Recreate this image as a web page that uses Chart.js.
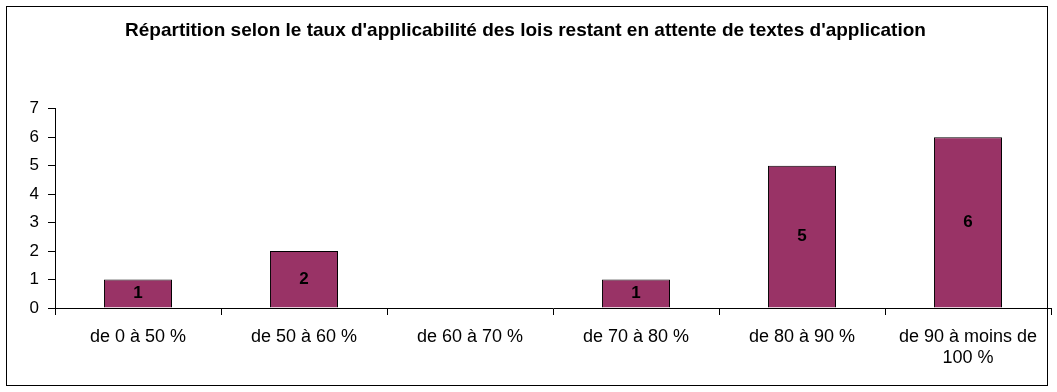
<!DOCTYPE html>
<html>
<head>
<meta charset="utf-8">
<script src="https://cdn.jsdelivr.net/npm/chart.js@4/dist/chart.umd.min.js"></script>
<style>
  html, body { margin: 0; padding: 0; background: #fff; }
  #wrap { position: relative; width: 1057px; height: 392px; }
  #frame { position: absolute; left: 6px; top: 6px; width: 1042px; height: 380px; border: 1px solid #000; box-sizing: border-box; pointer-events: none; }
</style>
</head>
<body>
<div id="wrap">
  <canvas id="chart" width="1057" height="392"></canvas>
  <div id="frame"></div>
</div>
<script>
const categories = [
  'de 0 à 50 %',
  'de 50 à 60 %',
  'de 60 à 70 %',
  'de 70 à 80 %',
  'de 80 à 90 %',
  ['de 90 à moins de', '100 %']
];
const counts = [1, 2, 0, 1, 5, 6];
const yTicks = [0, 1, 2, 3, 4, 5, 6, 7];

const barLabels = {
  id: 'barLabels',
  afterDatasetsDraw(chart) {
    const ctx = chart.ctx;
    const meta = chart.getDatasetMeta(0);
    ctx.save();
    ctx.font = 'bold 17px Arial, "Liberation Sans", sans-serif';
    ctx.fillStyle = '#000';
    ctx.textAlign = 'center';
    ctx.textBaseline = 'middle';
    meta.data.forEach((bar, i) => {
      const v = counts[i];
      if (!v) return;
      ctx.fillText(String(v), bar.x, (bar.y + bar.base) / 2);
    });
    ctx.restore();
  }
};

new Chart(document.getElementById('chart').getContext('2d'), {
  type: 'bar',
  data: {
    labels: categories,
    datasets: [{
      data: counts,
      backgroundColor: '#993366',
      borderColor: '#000',
      borderWidth: 1,
      categoryPercentage: 1,
      barPercentage: 0.41
    }]
  },
  options: {
    responsive: false,
    animation: false,
    layout: { padding: { left: 0, right: 6, top: 0, bottom: 0 } },
    scales: {
      x: {
        grid: {
          offset: true,
          drawOnChartArea: false,
          tickLength: 7,
          color: '#000'
        },
        border: { color: '#000', width: 1 },
        ticks: {
          color: '#000',
          font: { family: 'Arial, "Liberation Sans", sans-serif', size: 18 },
          padding: 11,
          maxRotation: 0,
          autoSkip: false
        },
        afterFit: (scale) => { scale.height = 84; }
      },
      y: {
        min: 0,
        max: 7,
        afterBuildTicks: (scale) => { scale.ticks = yTicks.map(v => ({ value: v })); },
        grid: {
          drawOnChartArea: false,
          tickLength: 7,
          color: '#000'
        },
        border: { color: '#000', width: 1 },
        ticks: {
          color: '#000',
          font: { family: 'Arial, "Liberation Sans", sans-serif', size: 17 },
          padding: 9
        },
        afterFit: (scale) => { scale.width = 55; }
      }
    },
    plugins: {
      legend: { display: false },
      tooltip: { enabled: false },
      title: {
        display: true,
        text: "Répartition selon le taux d'applicabilité des lois restant en attente de textes d'application",
        color: '#000',
        font: { family: 'Arial, "Liberation Sans", sans-serif', size: 19, weight: 'bold' },
        padding: { top: 19, bottom: 67 }
      }
    }
  },
  plugins: [barLabels]
});
</script>
</body>
</html>
